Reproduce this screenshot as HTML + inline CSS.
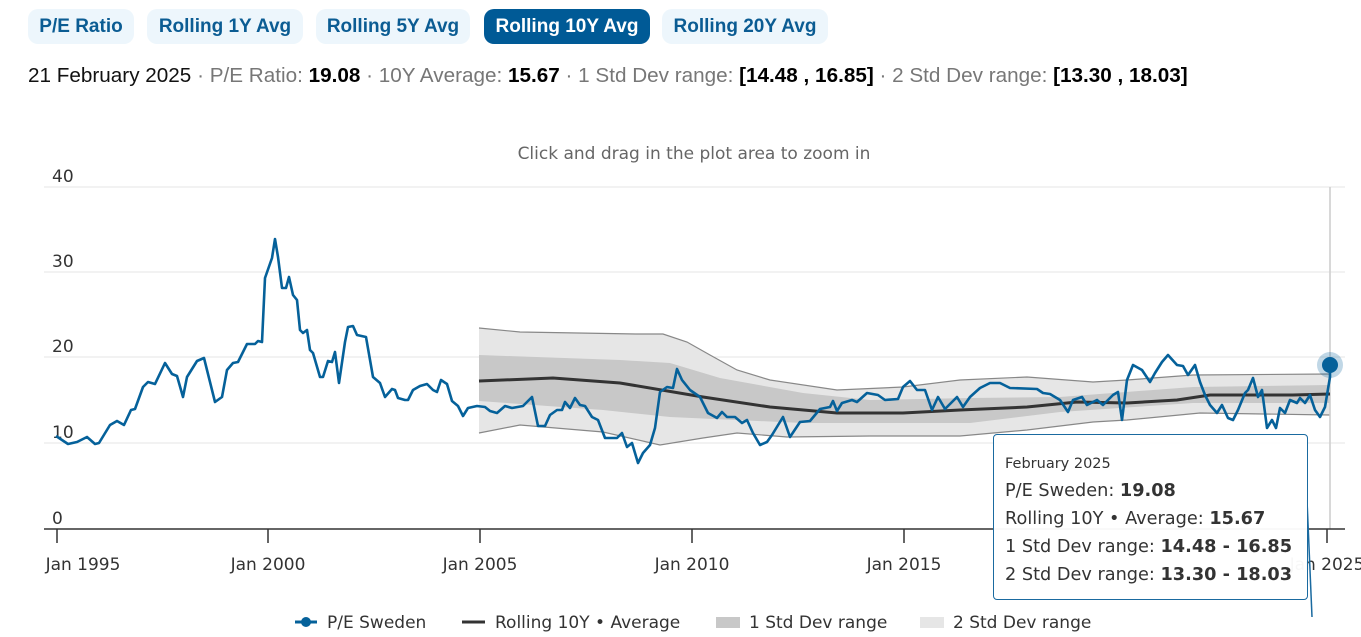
<!DOCTYPE html>
<html><head><meta charset="utf-8"><style>
body{margin:0;width:1361px;height:637px;background:#fff;overflow:hidden;font-family:"Liberation Sans",Arial,sans-serif;position:relative}
.b{position:absolute;top:9px;height:35px;line-height:35px;border-radius:10px;background:#edf6fc;color:#0b5c93;font-weight:bold;font-size:19px;text-align:center}
.b.a{background:#005a96;color:#fff}
.info{position:absolute;left:28px;top:64px;font-size:20.7px;color:#111;white-space:nowrap}
.info .g{color:#777}
.info b{color:#000}
svg{position:absolute;left:0;top:0}
svg text{font-family:"DejaVu Sans",sans-serif}
.tt{position:absolute;left:993px;top:434px;width:315px;height:166px;border:1.5px solid #1a6aa0;border-radius:4px;background:rgba(255,255,255,0.96);font-family:"DejaVu Sans",sans-serif;color:#333;box-sizing:border-box;padding:18px 0 0 11px;white-space:nowrap}
.tt div{font-size:17.7px;line-height:28px}
.tt .h{font-size:14.5px;line-height:22px;margin-bottom:2px}
</style></head><body>
<div class="b" style="left:28px;width:106px">P/E Ratio</div>
<div class="b" style="left:147px;width:156px">Rolling 1Y Avg</div>
<div class="b" style="left:316px;width:154px">Rolling 5Y Avg</div>
<div class="b a" style="left:484px;width:166px">Rolling 10Y Avg</div>
<div class="b" style="left:662px;width:166px">Rolling 20Y Avg</div>
<div class="info">21 February 2025 <span class="g">· P/E Ratio:</span> <b>19.08</b> <span class="g">· 10Y Average:</span> <b>15.67</b> <span class="g">· 1 Std Dev range:</span> <b>[14.48 , 16.85]</b> <span class="g">· 2 Std Dev range:</span> <b>[13.30 , 18.03]</b></div>
<svg width="1361" height="637" viewBox="0 0 1361 637">
<text x="694" y="159" text-anchor="middle" font-size="17" fill="#666">Click and drag in the plot area to zoom in</text>
<g stroke="#e6e6e6" stroke-width="1">
<line x1="44" y1="187" x2="1345" y2="187"/><line x1="44" y1="272" x2="1345" y2="272"/><line x1="44" y1="357" x2="1345" y2="357"/><line x1="44" y1="443" x2="1345" y2="443"/>
</g>
<g font-size="17" fill="#333">
<text x="52" y="182">40</text><text x="52" y="267">30</text><text x="52" y="352">20</text><text x="52" y="438">10</text><text x="52" y="524">0</text>
</g>
<polygon fill="#e6e6e6" points="479,328 520,332 637,334 663,334 687,342 710,355 737,370 770,380 837,390 903,387 960,380 1027,377 1093,382 1127,380 1193,375 1330,374 1330,415 1200,413 1127,420 1093,422 1027,430 960,436 870,436 787,437 737,433 703,438 660,445 603,432 520,425 479,433"/>
<polygon fill="#c8c8c8" points="479,355 620,360 670,363 720,378 803,393 870,400 970,398 1060,397 1193,387 1330,385 1330,403 1193,403 1060,412 970,423 803,423 670,417 603,410 479,401"/>
<g fill="none" stroke="#888" stroke-width="1.2">
<polyline points="479,328 520,332 637,334 663,334 687,342 710,355 737,370 770,380 837,390 903,387 960,380 1027,377 1093,382 1127,380 1193,375 1330,374"/>
<polyline points="479,433 520,425 603,432 660,445 703,438 737,433 787,437 870,436 960,436 1027,430 1093,422 1127,420 1200,413 1330,415"/>
</g>
<line x1="1330" y1="187" x2="1330" y2="529" stroke="#ccc" stroke-width="1.5"/>
<polyline fill="none" stroke="#333" stroke-width="3" points="479,381 553,378 620,383 703,397 770,407 837,413 903,413 960,410 1027,407 1077,402 1127,403 1177,400 1210,395 1293,395 1330,394"/>
<polyline fill="none" stroke="#05619a" stroke-width="2.6" stroke-linejoin="round" points="56,436 68,444 77,442 87,437 95,444 99,443 110,425 117,421 124,425 131,410 135,409 143,387 148,382 155,384 165,363 172,374 177,376 183,397 187,377 197,361 204,358 215,402 222,397 227,370 233,363 238,362 247,344 255,344 258,341 262,342 265,278 272,258 275,239 278,257 282,288 286,288 289,277 293,295 297,300 300,330 303,333 307,330 310,350 313,353 320,377 323,377 328,361 332,362 335,352 339,383 345,342 348,327 353,326 357,335 366,337 373,377 380,383 385,397 392,389 395,390 398,398 405,400 408,400 413,390 420,386 427,384 433,390 437,392 441,380 447,384 452,401 458,406 463,416 468,408 477,406 485,407 490,411 497,413 505,406 512,408 523,406 532,397 538,426 545,426 550,415 557,410 562,410 565,402 570,408 575,398 580,405 585,406 592,417 598,420 605,438 617,438 622,433 627,447 632,443 638,463 643,453 650,445 655,428 660,392 667,387 673,388 677,369 682,380 690,390 700,397 708,413 717,418 722,412 727,417 735,417 742,423 747,420 753,433 760,445 767,442 772,435 783,417 790,437 800,422 810,421 820,409 830,407 833,401 837,411 842,403 852,400 857,402 867,393 878,395 885,400 898,399 903,387 910,381 917,390 925,390 932,410 938,397 945,409 957,397 963,407 970,397 980,388 990,383 1000,383 1010,388 1037,389 1043,393 1050,394 1060,400 1068,412 1073,400 1082,397 1087,405 1097,400 1103,405 1113,395 1118,392 1122,420 1127,380 1133,365 1142,370 1150,382 1155,373 1162,362 1168,355 1177,365 1183,366 1188,375 1195,365 1200,382 1205,395 1210,405 1217,413 1222,405 1228,418 1233,420 1238,410 1245,393 1248,390 1253,378 1258,397 1262,390 1267,428 1272,420 1276,428 1280,408 1285,413 1290,400 1297,403 1300,398 1305,403 1310,395 1315,410 1320,417 1325,407 1330,377 1330,365"/>
<circle cx="1330" cy="365" r="13" fill="#05619a" fill-opacity="0.25"/>
<circle cx="1330" cy="365" r="8" fill="#05619a"/>
<line x1="44" y1="529" x2="1345" y2="529" stroke="#333" stroke-width="1.5"/>
<g stroke="#333" stroke-width="1.5">
<line x1="57" y1="529" x2="57" y2="543"/><line x1="268" y1="529" x2="268" y2="543"/><line x1="480" y1="529" x2="480" y2="543"/><line x1="692" y1="529" x2="692" y2="543"/><line x1="904" y1="529" x2="904" y2="543"/><line x1="1327" y1="529" x2="1327" y2="543"/>
</g>
<g font-size="17" fill="#333" text-anchor="middle">
<text x="83" y="570">Jan 1995</text><text x="268" y="570">Jan 2000</text><text x="480" y="570">Jan 2005</text><text x="692" y="570">Jan 2010</text><text x="904" y="570">Jan 2015</text><text x="1327" y="570">Jan 2025</text>
</g>
<line x1="1307" y1="500" x2="1312" y2="617" stroke="#1a6aa0" stroke-width="1.5"/>
<g font-size="17" fill="#333">
<line x1="295" y1="622" x2="317" y2="622" stroke="#05619a" stroke-width="3"/><circle cx="306" cy="622" r="5" fill="#05619a"/>
<text x="327" y="628">P/E Sweden</text>
<line x1="462" y1="622" x2="485" y2="622" stroke="#333" stroke-width="3"/>
<text x="495" y="628">Rolling 10Y • Average</text>
<rect x="716" y="617" width="24" height="11" fill="#c8c8c8"/>
<text x="749" y="628">1 Std Dev range</text>
<rect x="920" y="617" width="24" height="11" fill="#e6e6e6"/>
<text x="953" y="628">2 Std Dev range</text>
</g>
</svg>
<div class="tt">
<div class="h">February 2025</div>
<div>P/E Sweden: <b>19.08</b></div>
<div>Rolling 10Y • Average: <b>15.67</b></div>
<div>1 Std Dev range: <b>14.48 - 16.85</b></div>
<div>2 Std Dev range: <b>13.30 - 18.03</b></div>
</div>
</body></html>
